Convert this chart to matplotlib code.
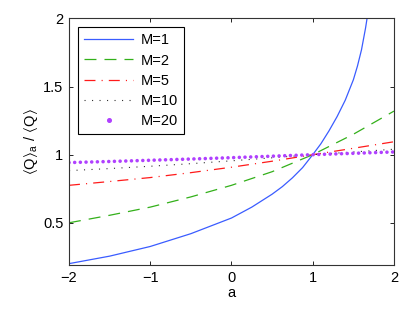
import matplotlib
matplotlib.use('Agg')
import matplotlib.pyplot as plt
from matplotlib.lines import Line2D

plt.rcParams['font.family'] = ['Liberation Sans', 'DejaVu Sans']
plt.rcParams['mathtext.fontset'] = 'dejavusans'
plt.rcParams['lines.scale_dashes'] = False

# values
a_m1 = [-2, -1.5, -1, -0.5, 0, 0.25, 0.5, 0.625, 0.75, 0.875, 1, 1.1, 1.2, 1.3,
        1.4, 1.5, 1.55, 1.6, 1.65, 1.7]
q_m1 = [0.20, 0.255, 0.326, 0.42, 0.535, 0.615, 0.71, 0.765, 0.83, 0.905, 1.0,
        1.08, 1.175, 1.28, 1.40, 1.55, 1.65, 1.77, 1.93, 2.12]

a_grid = [-2, -1.5, -1, -0.5, 0, 0.5, 1, 1.5, 2]
q_m2 = [0.50, 0.555, 0.615, 0.69, 0.775, 0.875, 1.0, 1.15, 1.32]
q_m5 = [0.775, 0.803, 0.832, 0.868, 0.908, 0.952, 1.0, 1.047, 1.095]
q_m10 = [0.883, 0.898, 0.915, 0.934, 0.955, 0.977, 1.0, 1.02, 1.04]
q_m20 = [0.942, 0.95, 0.959, 0.968, 0.978, 0.989, 1.0, 1.01, 1.02]

labels = ['M=1', 'M=2', 'M=5', 'M=10', 'M=20']
colors = ['#3a5cff', '#33b01a', '#ff1a1a', '#333333', '#b040ff']

fig = plt.figure(figsize=(4.09, 3.16), dpi=100)
ax = fig.add_axes([0.1687, 0.1614, 0.7946, 0.7801])

l1, = ax.plot(a_m1, q_m1, color=colors[0], lw=0.9)
l2, = ax.plot(a_grid, q_m2, color=colors[1], lw=0.9, linestyle=(0, (8.6, 5.8)))
l3, = ax.plot(a_grid, q_m5, color=colors[2], lw=0.9,
              linestyle=(0, (7.9, 4.4, 0.8, 4.4)))
l4, = ax.plot(a_grid, q_m10, color=colors[3], lw=0.8,
              linestyle=(0, (0.8, 4.6)))
ax.plot(a_grid, q_m20, color=colors[4], lw=2.6,
        linestyle=(0, (0.01, 4.08)), dash_capstyle='round')
l5 = Line2D([], [], color=colors[4], marker='o', markersize=2.6, linestyle='none')

ax.set_xlim(-2, 2)
ax.set_ylim(0.19, 2)
ax.set_xticks([-2, -1, 0, 1, 2])
ax.set_xticklabels(['\u22122', '\u22121', '0', '1', '2'])
ax.set_yticks([0.5, 1, 1.5, 2])
ax.set_yticklabels(['0.5', '1', '1.5', '2'])
ax.tick_params(direction='in', length=3, width=0.6, top=True, right=True,
               labelsize=10.5, pad=4)
for s in ax.spines.values():
    s.set_linewidth(0.8)
    s.set_color('#333333')

ax.set_xlabel('a', fontsize=10.5, labelpad=1)
ax.set_ylabel(r'$\mathregular{\langle Q\rangle_a\ /\ \langle Q\rangle}$', fontsize=10.5, labelpad=2)

leg = ax.legend([l1, l2, l3, l4, l5], labels, loc='upper left',
                bbox_to_anchor=(0.027, 0.966), borderaxespad=0,
                fontsize=10.5, handlelength=3.35, handletextpad=0.5,
                labelspacing=0.42, fancybox=False, framealpha=1,
                borderpad=0.45)
leg.get_frame().set_edgecolor('black')
leg.get_frame().set_linewidth(0.8)

fig.savefig('out.png', dpi=100)
